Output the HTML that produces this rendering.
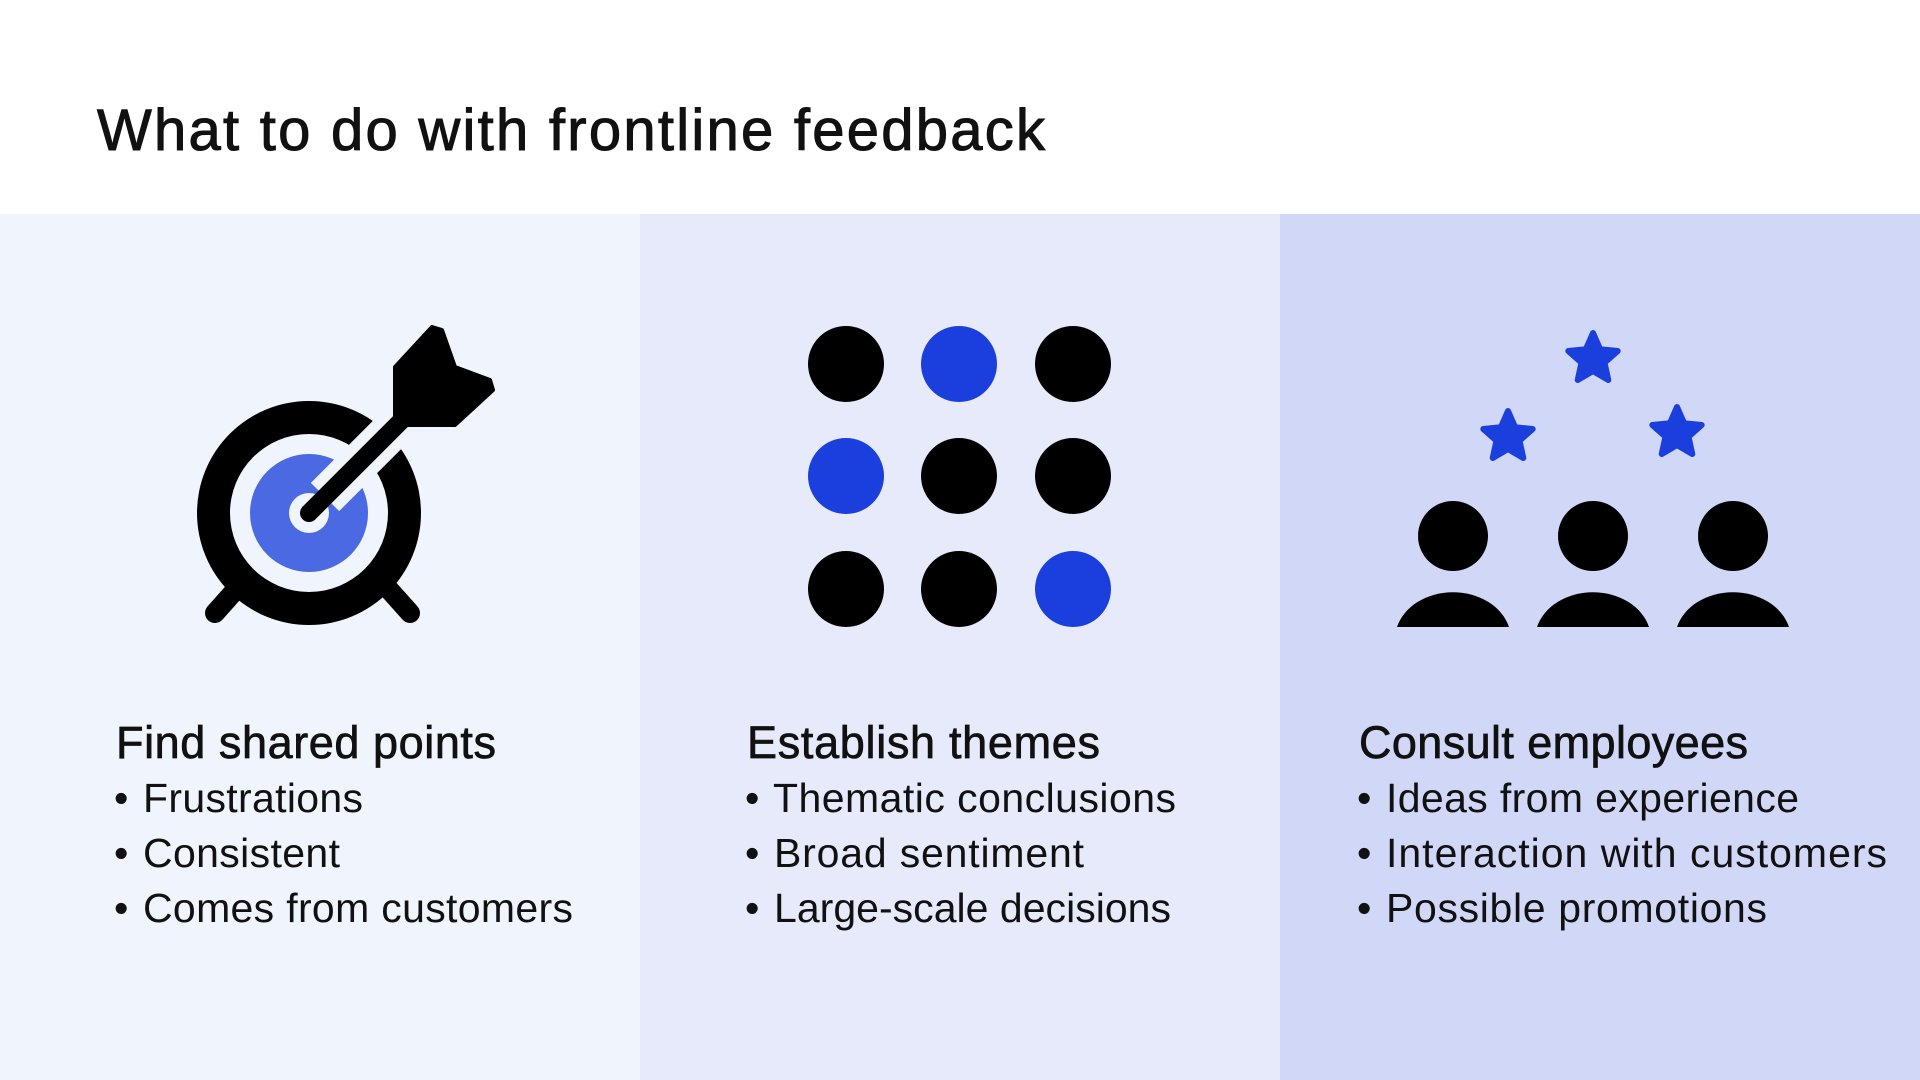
<!DOCTYPE html>
<html><head><meta charset="utf-8"><style>
html,body{margin:0;padding:0;background:#fff;}
svg{display:block}
text{font-family:"Liberation Sans",sans-serif;fill:#111;}
</style></head><body>
<svg width="1920" height="1080" viewBox="0 0 1920 1080" xmlns="http://www.w3.org/2000/svg">
<rect x="0" y="0" width="1920" height="214" fill="#ffffff"/>
<rect x="0" y="214" width="640" height="866" fill="#f0f4fd"/>
<rect x="640" y="214" width="640" height="866" fill="#e6eafa"/>
<rect x="1280" y="214" width="640" height="866" fill="#d1d8f7"/>
<text x="97" y="150" font-size="58" textLength="948" lengthAdjust="spacing" style="stroke:#111;stroke-width:1px">What to do with frontline feedback</text>

<!-- target -->
<g>
<line x1="215" y1="613" x2="240" y2="585" stroke="#000" stroke-width="20" stroke-linecap="round"/>
<line x1="410" y1="613" x2="385" y2="585" stroke="#000" stroke-width="20" stroke-linecap="round"/>
<circle cx="309" cy="513" r="112" fill="#000"/>
<circle cx="309" cy="513" r="79" fill="#f0f4fd"/>
<circle cx="309" cy="513" r="59" fill="#4a69e2"/>
<circle cx="309" cy="513" r="20" fill="#f0f4fd"/>
<line x1="325" y1="497" x2="425" y2="397" stroke="#f0f4fd" stroke-width="40"/>
<line x1="309" y1="513" x2="420" y2="402" stroke="#000" stroke-width="18" stroke-linecap="round"/>
<polygon points="395,367 432,327 442,330 455,367 490,380 493,390 455,425 395,425" fill="#000" stroke="#000" stroke-width="4" stroke-linejoin="round"/>
</g>

<!-- dots -->
<g>
<circle cx="846" cy="364" r="38" fill="#000"/>
<circle cx="959" cy="364" r="38" fill="#1a3fdd"/>
<circle cx="1073" cy="364" r="38" fill="#000"/>
<circle cx="846" cy="476" r="38" fill="#1a3fdd"/>
<circle cx="959" cy="476" r="38" fill="#000"/>
<circle cx="1073" cy="476" r="38" fill="#000"/>
<circle cx="846" cy="589" r="38" fill="#000"/>
<circle cx="959" cy="589" r="38" fill="#000"/>
<circle cx="1073" cy="589" r="38" fill="#1a3fdd"/>
</g>

<!-- people -->
<defs>
<polygon id="star" points="0,-26 7.1,-9.8 24.7,-8 11.5,3.7 15.3,21 0,12 -15.3,21 -11.5,3.7 -24.7,-8 -7.1,-9.8" fill="#1a3fdd" stroke="#1a3fdd" stroke-width="6" stroke-linejoin="round"/>
</defs>
<use href="#star" x="1593" y="359"/>
<use href="#star" x="1508" y="437"/>
<use href="#star" x="1677" y="433"/>
<g fill="#000">
<circle cx="1453" cy="536" r="35"/>
<circle cx="1593" cy="536" r="35"/>
<circle cx="1733" cy="536" r="35"/>
<path d="M1397,627 A58,47 0 0 1 1509,627 Z"/>
<path d="M1537,627 A58,47 0 0 1 1649,627 Z"/>
<path d="M1677,627 A58,47 0 0 1 1789,627 Z"/>
</g>

<!-- texts -->
<g font-size="45" style="stroke:#111;stroke-width:0.7px" lengthAdjust="spacing">
<text x="116" y="758" textLength="380">Find shared points</text>
<text x="747" y="758" textLength="353">Establish themes</text>
<text x="1359" y="758" textLength="389">Consult employees</text>
</g>
<g font-size="41">
<text x="114" y="812">•</text><text x="143" y="812" textLength="220" lengthAdjust="spacing">Frustrations</text>
<text x="114" y="867">•</text><text x="143" y="867" textLength="197" lengthAdjust="spacing">Consistent</text>
<text x="114" y="922">•</text><text x="143" y="922" textLength="430" lengthAdjust="spacing">Comes from customers</text>
<text x="745" y="812">•</text><text x="773" y="812" textLength="403" lengthAdjust="spacing">Thematic conclusions</text>
<text x="745" y="867">•</text><text x="774" y="867" textLength="310" lengthAdjust="spacing">Broad sentiment</text>
<text x="745" y="922">•</text><text x="774" y="922" textLength="397" lengthAdjust="spacing">Large-scale decisions</text>
<text x="1357" y="812">•</text><text x="1386" y="812" textLength="413" lengthAdjust="spacing">Ideas from experience</text>
<text x="1357" y="867">•</text><text x="1386" y="867" textLength="501" lengthAdjust="spacing">Interaction with customers</text>
<text x="1357" y="922">•</text><text x="1386" y="922" textLength="381" lengthAdjust="spacing">Possible promotions</text>
</g>
</svg>
</body></html>
